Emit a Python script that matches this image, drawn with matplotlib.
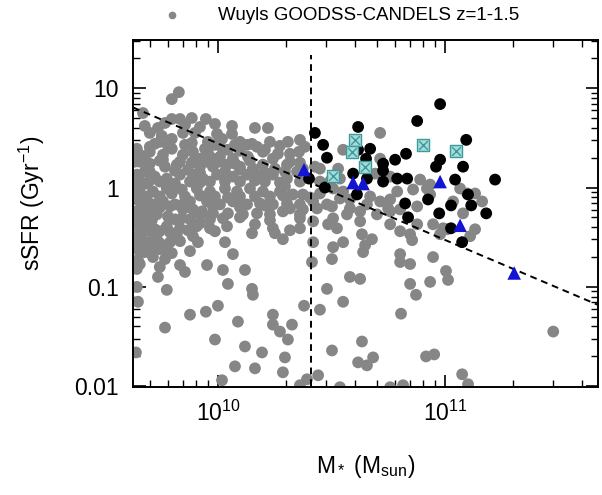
import numpy as np
import matplotlib
matplotlib.use('Agg')
import matplotlib.pyplot as plt

plt.rcParams['font.family'] = ['Liberation Sans', 'DejaVu Sans']
plt.rcParams['mathtext.fontset'] = 'custom'
plt.rcParams['mathtext.rm'] = 'Liberation Sans'
plt.rcParams['mathtext.it'] = 'Liberation Sans:italic'
plt.rcParams['mathtext.default'] = 'regular'

# Wuyts GOODS-S / CANDELS sample, z = 1-1.5 (log10 M*, log10 sSFR [Gyr^-1])
gray_logm = [
    9.828, 9.797, 9.670, 9.767, 9.797, 9.833, 9.885, 9.947, 10.163,
    9.700, 9.753, 9.797, 9.846, 9.899, 9.996, 9.956, 10.018, 10.097, 10.128, 10.075, 10.044, 10.172, 10.308, 10.361,
    9.643, 9.656, 9.797, 9.846, 9.758, 9.890, 10.022, 10.198, 10.357, 10.317,
    9.921, 9.965, 10.009, 10.066, 10.132, 10.242, 9.758, 9.899, 10.551, 10.714, 10.714,
    9.700, 9.767, 9.819, 9.868, 9.921, 9.978, 10.040, 10.097, 10.154, 10.198, 10.251, 10.295, 10.348, 10.427, 10.374, 10.449, 10.529, 9.833, 10.009,
    9.643, 9.775, 9.833, 9.890, 9.934, 9.996, 10.066, 10.128, 10.172, 10.242, 10.304, 10.502, 10.537, 10.692, 10.758, 10.890, 9.678, 9.722,
    10.361, 10.449, 10.493, 10.934,
    9.656, 9.714, 9.775, 9.841, 9.907, 9.965, 10.031, 10.084, 10.141, 10.198, 10.273, 10.507, 10.789, 10.859, 10.551, 11.066,
    10.330, 10.374, 10.449, 10.934, 11.097, 11.132, 10.537, 10.581, 10.670, 10.758, 10.714,
    9.656, 9.714, 9.758, 9.811, 9.877, 9.952, 10.009, 10.066, 10.128, 10.185, 10.242, 10.304, 10.361, 10.419, 10.480, 10.656, 11.163, 11.035,
    10.436, 10.581, 10.749, 10.802, 10.877, 10.626, 9.846, 9.890, 9.930, 9.789, 10.374, 10.502, 10.700,
    9.670, 9.731, 9.780, 9.921, 9.978, 10.044, 10.110, 10.172, 10.229, 10.286, 10.361, 10.568, 11.079, 10.758,
    9.877, 10.022, 10.507, 10.419, 9.921, 10.626, 10.758, 10.947, 10.485, 10.163, 10.877, 10.991,
    9.656, 9.722, 9.775, 9.833, 9.907, 9.965, 10.040, 10.242, 10.361, 10.524, 10.802, 11.009, 11.132,
    9.665, 9.731, 9.819, 9.890, 10.251, 10.634, 10.846, 11.110, 10.978,
    9.912, 10.286, 10.419, 10.551, 10.648, 10.678, 10.855,
    9.643, 9.709, 9.775, 10.639, 10.507,
    10.066, 9.714, 9.767, 9.648, 10.802, 10.502, 10.947, 10.802, 10.414, 9.833, 9.952, 10.846,
    9.643, 9.744, 9.855, 10.022, 10.119, 11.004, 9.736, 10.581, 10.626, 11.013, 10.044, 10.934, 10.846,
    9.643, 10.150, 9.775, 10.480, 10.154, 10.872, 9.648, 10.551, 10.379, 10.000, 9.947, 10.449, 9.877, 10.242, 10.806,
    10.088, 10.242, 10.326, 9.767, 10.273, 11.476, 10.308, 9.987, 10.634, 10.119, 10.194, 10.502, 9.639,
    10.295, 10.683, 10.916, 10.952, 10.075, 10.163, 10.656, 10.617, 10.286, 10.441, 10.392, 11.075, 10.018, 10.361, 10.537, 10.758, 10.815, 11.101,
    10.062, 10.207, 10.304, 9.634, 9.678, 9.634, 9.687, 9.744, 9.634, 9.687,
    9.634, 9.700, 9.634, 9.687, 9.634, 9.700, 9.678, 9.744, 9.656, 9.744,
    9.789, 9.811, 9.855, 9.744, 9.797, 9.811, 9.877, 9.965, 10.097, 10.207,
    10.295, 9.987, 10.097, 10.229, 9.700, 9.744, 9.855, 9.943, 10.383, 10.920,
    9.678, 9.736, 9.855, 9.921, 9.987, 10.062, 10.220,
    9.722, 9.780, 9.885, 9.987, 10.150, 10.229, 10.273,
    9.700, 9.956, 10.097, 10.264,
    9.656, 9.744, 9.885, 9.952, 10.075, 10.141, 10.317, 10.361,
    9.700, 9.811, 9.921, 10.031, 10.097, 10.207,
    9.656, 9.700, 9.921, 10.031, 10.163, 10.273,
    9.656, 9.921, 10.044, 10.163, 10.286, 10.405,
    9.678, 9.744, 9.833, 9.978, 10.097, 10.207, 10.317,
    9.656, 9.709, 9.841, 9.965, 10.097, 10.229, 10.361,
    9.700, 9.789, 9.868, 9.987, 10.150, 10.317,
    9.670, 9.744, 9.833, 10.031,
    9.656, 9.797, 9.877,
]
gray_logs = [
    0.96, 0.89, 0.75, 0.65, 0.69, 0.69, 0.70, 0.69, 0.60,
    0.55, 0.52, 0.49, 0.55, 0.55, 0.54, 0.46, 0.49, 0.46, 0.43, 0.43, 0.38, 0.41, 0.46, 0.48,
    0.39, 0.33, 0.39, 0.33, 0.33, 0.36, 0.38, 0.36, 0.36, 0.34,
    0.29, 0.31, 0.31, 0.29, 0.31, 0.29, 0.28, 0.28, 0.38, 0.55, 0.29,
    0.24, 0.21, 0.23, 0.18, 0.21, 0.21, 0.23, 0.21, 0.19, 0.23, 0.19, 0.16, 0.16, 0.21, 0.19, 0.19, 0.19, 0.26, 0.26,
    0.13, 0.09, 0.13, 0.13, 0.09, 0.13, 0.11, 0.13, 0.13, 0.13, 0.09, 0.09, 0.09, 0.14, 0.11, 0.08, 0.16, 0.11,
    0.06, 0.06, 0.06, 0.03,
    -0.01, -0.04, -0.01, -0.02, -0.01, -0.04, -0.01, -0.04, -0.01, -0.04, -0.04, -0.01, -0.04, -0.02, -0.04, -0.01,
    -0.07, -0.07, -0.06, -0.07, -0.06, -0.06, -0.11, -0.12, -0.09, -0.12, -0.14,
    -0.14, -0.17, -0.14, -0.17, -0.14, -0.14, -0.17, -0.14, -0.17, -0.16, -0.17, -0.16, -0.17, -0.14, -0.17, -0.17, -0.14, -0.14,
    -0.21, -0.21, -0.21, -0.22, -0.19, -0.24, -0.22, -0.22, -0.24, -0.19, -0.22, -0.19, -0.27,
    -0.27, -0.27, -0.29, -0.27, -0.26, -0.26, -0.27, -0.26, -0.27, -0.24, -0.27, -0.27, -0.26, -0.24,
    -0.32, -0.31, -0.31, -0.34, -0.36, -0.34, -0.37, -0.37, -0.37, -0.37, -0.37, -0.41,
    -0.41, -0.42, -0.39, -0.41, -0.39, -0.41, -0.39, -0.41, -0.41, -0.41, -0.44, -0.42, -0.42,
    -0.47, -0.52, -0.47, -0.49, -0.46, -0.47, -0.47, -0.49, -0.47,
    -0.55, -0.52, -0.55, -0.55, -0.58, -0.52, -0.53,
    -0.60, -0.60, -0.62, -0.65, -0.60,
    -0.67, -0.70, -0.72, -0.73, -0.67, -0.72, -0.70, -0.75, -0.75, -0.78, -0.78, -0.77,
    -0.82, -0.80, -0.85, -0.83, -0.83, -0.84, -0.90, -0.90, -0.92, -0.93, -0.97, -0.95, -0.97,
    -1.00, -1.02, -1.03, -1.02, -1.08, -1.08, -1.15, -1.15, -1.19, -1.19, -1.25, -1.23, -1.28, -1.28, -1.27,
    -1.35, -1.38, -1.38, -1.41, -1.45, -1.45, -1.53, -1.53, -1.55, -1.60, -1.66, -1.64, -1.66,
    -1.71, -1.71, -1.70, -1.68, -1.80, -1.82, -1.79, -1.76, -1.86, -1.89, -1.93, -1.88, -1.94, -1.99, -2.01, -2.01, -1.99, -1.98,
    0.54, 0.38, 0.23, 0.26, 0.28, 0.01, 0.04, 0.06, -0.09, -0.09,
    -0.24, -0.22, -0.34, -0.34, -0.49, -0.55, -0.65, -0.62, -0.77, -0.44,
    -0.55, -0.32, -0.09, -0.09, -0.06, 0.04, 0.06, 0.06, 0.06, 0.06,
    0.01, -0.09, -0.09, -0.09, 0.41, 0.46, 0.43, 0.39, 0.41, -0.01,
    0.62, 0.60, 0.63, 0.61, 0.64, 0.62, 0.60,
    0.44, 0.42, 0.45, 0.43, 0.44, 0.46, 0.42,
    0.36, 0.35, 0.37, 0.34,
    0.26, 0.27, 0.25, 0.26, 0.24, 0.27, 0.26, 0.25,
    0.16, 0.17, 0.15, 0.16, 0.18, 0.15,
    0.06, 0.07, 0.05, 0.06, 0.07, 0.05,
    -0.09, -0.08, -0.10, -0.09, -0.08, -0.10,
    -0.19, -0.20, -0.18, -0.19, -0.20, -0.18, -0.21,
    -0.32, -0.33, -0.31, -0.32, -0.30, -0.33, -0.31,
    -0.44, -0.45, -0.43, -0.44, -0.46, -0.43,
    -0.55, -0.56, -0.54, -0.55,
    -0.65, -0.66, -0.64,
]

# massive star-forming galaxies
black_logm = [10.401, 10.427, 10.463, 10.480, 10.471, 10.617, 10.617, 10.670, 10.652, 10.595,
              10.656, 10.612, 10.727, 10.727, 10.727, 10.780, 10.828, 10.789, 10.833, 10.877,
              10.978, 10.978, 10.960, 11.093, 11.079, 11.044, 11.220, 11.101, 10.925, 10.824,
              10.837, 10.974, 11.026, 11.115, 11.181, 11.026, 11.075]
black_logs = [0.09, 0.55, 0.43, 0.30, 0.00, 0.61, 0.38, 0.39, 0.29, 0.14,
              0.09, -0.07, 0.24, 0.17, 0.06, 0.28, 0.34, 0.09, 0.09, 0.67,
              0.84, 0.28, 0.21, 0.48, 0.21, 0.08, 0.08, -0.07, -0.12, -0.16,
              -0.30, -0.26, -0.18, -0.18, -0.26, -0.41, -0.55]

cyan_logm = [10.604, 10.590, 10.648, 10.507, 10.903, 11.048]
cyan_logs = [0.48, 0.36, 0.21, 0.12, 0.43, 0.37]

blue_logm = [10.379, 10.595, 10.639, 10.978, 11.066, 11.304]
blue_logs = [0.18, 0.05, 0.04, 0.06, -0.38, -0.86]

# dashed guides
diag_mass = [4.23e9, 4.7e11]
diag_ssfr = [6.4, 0.066]
cut_mass = 2.57e10
cut_ssfr = [0.01, 21.5]

fig = plt.figure(figsize=(6.02, 4.95), dpi=100)
ax = fig.add_axes([0.221, 0.218, 0.772, 0.701])
ax.set_xscale('log')
ax.set_yscale('log')

ax.scatter(10 ** np.array(gray_logm), 10 ** np.array(gray_logs), s=72, c='#868686',
           edgecolors='none', zorder=2, label='Wuyls GOODSS-CANDELS z=1-1.5')

dash = (0, (3.5, 2.5))
ax.plot(diag_mass, diag_ssfr, color='k', ls=dash, lw=1.4, zorder=3)
ax.plot([cut_mass, cut_mass], cut_ssfr, color='k', ls=dash, lw=1.4, zorder=3)

ax.scatter(10 ** np.array(black_logm), 10 ** np.array(black_logs), s=72, c='k',
           edgecolors='none', zorder=4)
ax.scatter(10 ** np.array(cyan_logm), 10 ** np.array(cyan_logs), marker='s', s=85,
           facecolor='#a6dcdc', edgecolor='#3d9a9a', lw=1.0, zorder=5)
ax.scatter(10 ** np.array(cyan_logm), 10 ** np.array(cyan_logs), marker='x', s=40,
           c='#3d9a9a', lw=1.0, zorder=6)
ax.scatter(10 ** np.array(blue_logm), 10 ** np.array(blue_logs), marker='^', s=95,
           c='#1414d4', edgecolors='none', zorder=6)

ax.set_xlim(4.23e9, 4.7e11)
ax.set_ylim(0.0098, 30.5)

ax.set_yticks([0.01, 0.1, 1, 10])
ax.set_yticklabels(['0.01', '0.1', '1', '10'])
ax.tick_params(which='both', direction='in', top=True, right=True)
ax.tick_params(which='major', length=9, width=1.2, labelsize=16.5, pad=10)
ax.tick_params(which='minor', length=5, width=1.0)
for sp in ax.spines.values():
    sp.set_linewidth(1.4)

ax.set_xlabel(r'M$_*$ (M$_{sun}$)', fontsize=16.5)
ax.set_ylabel(r'sSFR (Gyr$^{-1}$)', fontsize=16.5)
ax.xaxis.set_label_coords(0.5, -0.19)
ax.yaxis.set_label_coords(-0.185, 0.53)

ax.legend(loc='center left', bbox_to_anchor=(0.271, 0.968), bbox_transform=fig.transFigure,
          frameon=False, fontsize=13.5, handlelength=1.0, handletextpad=1.9,
          markerscale=0.65, borderaxespad=0, borderpad=0)

fig.savefig('out.png', dpi=100)
